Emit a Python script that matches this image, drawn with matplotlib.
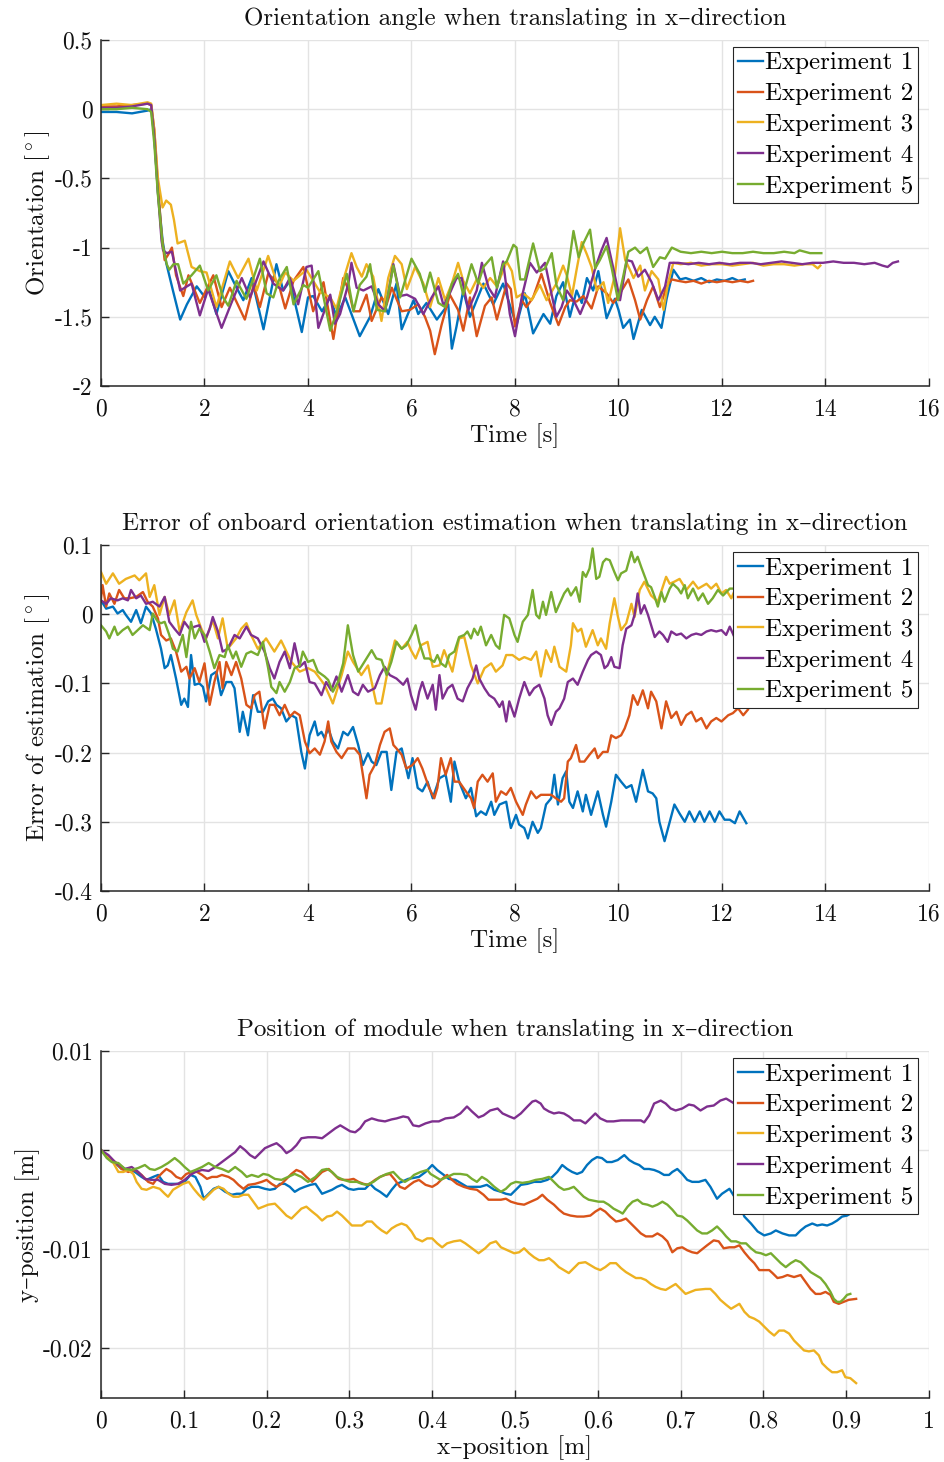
import matplotlib.pyplot as plt
import numpy as np

plt.rcParams['font.family'] = ['cmr10', 'DejaVu Serif']
plt.rcParams['mathtext.fontset'] = 'cm'
plt.rcParams['axes.unicode_minus'] = False
plt.rcParams['axes.formatter.use_mathtext'] = True

colors = ['#0072BD', '#D95319', '#EDB120', '#7E2F8E', '#77AC30']
labels = ['Experiment 1', 'Experiment 2', 'Experiment 3', 'Experiment 4', 'Experiment 5']

# ---------- panel 1: orientation angle (time [s], degrees) ----------
exp1_orient = [
    (0.0, -0.02), (0.3, -0.02), (0.6, -0.03), (0.75, -0.02), (0.9, -0.01), (0.97, 0.0), (1.03, -0.2),
    (1.1, -0.6), (1.19, -0.95), (1.26, -1.11), (1.39, -1.31), (1.53, -1.52), (1.66, -1.41), (1.85, -1.28),
    (2.01, -1.36), (2.07, -1.28), (2.23, -1.48), (2.46, -1.17), (2.62, -1.29), (2.75, -1.38), (2.91, -1.22),
    (3.14, -1.59), (3.39, -1.12), (3.52, -1.31), (3.65, -1.24), (3.88, -1.61), (4.0, -1.36), (4.1, -1.35),
    (4.27, -1.46), (4.43, -1.36), (4.55, -1.5), (4.72, -1.36), (5.0, -1.64), (5.2, -1.5), (5.36, -1.3),
    (5.55, -1.48), (5.71, -1.26), (5.81, -1.59), (6.04, -1.38), (6.13, -1.48), (6.29, -1.4), (6.49, -1.52),
    (6.71, -1.41), (6.78, -1.73), (6.87, -1.57), (7.0, -1.31), (7.13, -1.5), (7.39, -1.26), (7.58, -1.41),
    (7.77, -1.26), (7.93, -1.45), (8.03, -1.56), (8.19, -1.33), (8.35, -1.62), (8.55, -1.48), (8.68, -1.55),
    (8.8, -1.35), (8.93, -1.25), (9.06, -1.5), (9.19, -1.31), (9.29, -1.4), (9.39, -1.22), (9.51, -1.31),
    (9.61, -1.17), (9.77, -1.51), (9.93, -1.37), (10.0, -1.45), (10.09, -1.58), (10.22, -1.52), (10.29, -1.66),
    (10.45, -1.45), (10.61, -1.56), (10.7, -1.5), (10.83, -1.58), (10.93, -1.37), (11.06, -1.16), (11.19, -1.23),
    (11.3, -1.22), (11.45, -1.24), (11.6, -1.22), (11.75, -1.25), (11.9, -1.23), (12.05, -1.24), (12.2, -1.22),
    (12.32, -1.24), (12.44, -1.23)]
exp2_orient = [
    (0.0, 0.02), (0.3, 0.02), (0.6, 0.03), (0.9, 0.04), (0.97, 0.03), (1.03, -0.15), (1.1, -0.55), (1.17, -0.9),
    (1.23, -1.09), (1.3, -1.05), (1.37, -1.0), (1.45, -1.2), (1.59, -1.35), (1.69, -1.2), (1.91, -1.4),
    (2.17, -1.2), (2.33, -1.43), (2.49, -1.29), (2.78, -1.52), (2.95, -1.27), (3.07, -1.43), (3.23, -1.19),
    (3.43, -1.26), (3.56, -1.44), (3.72, -1.24), (3.91, -1.14), (4.1, -1.46), (4.3, -1.25), (4.49, -1.66),
    (4.68, -1.22), (4.78, -1.3), (4.88, -1.46), (5.0, -1.46), (5.13, -1.34), (5.23, -1.53), (5.42, -1.36),
    (5.52, -1.41), (5.62, -1.29), (5.81, -1.46), (5.97, -1.45), (6.13, -1.41), (6.26, -1.5), (6.36, -1.6),
    (6.45, -1.77), (6.58, -1.56), (6.74, -1.34), (6.9, -1.45), (7.0, -1.6), (7.13, -1.36), (7.26, -1.64),
    (7.42, -1.42), (7.55, -1.36), (7.65, -1.52), (7.84, -1.26), (7.92, -1.3), (8.0, -1.57), (8.13, -1.38),
    (8.22, -1.43), (8.35, -1.36), (8.51, -1.19), (8.68, -1.4), (8.84, -1.56), (8.97, -1.43), (9.06, -1.38),
    (9.19, -1.39), (9.32, -1.35), (9.48, -1.44), (9.61, -1.28), (9.77, -1.33), (9.9, -1.4), (10.03, -1.33),
    (10.19, -1.23), (10.32, -1.38), (10.42, -1.52), (10.55, -1.38), (10.67, -1.28), (10.8, -1.43), (10.93, -1.28),
    (11.03, -1.23), (11.15, -1.24), (11.3, -1.25), (11.45, -1.24), (11.6, -1.26), (11.75, -1.24), (11.9, -1.25),
    (12.05, -1.24), (12.2, -1.25), (12.35, -1.24), (12.5, -1.25), (12.6, -1.24)]
exp3_orient = [
    (0.0, 0.03), (0.3, 0.04), (0.6, 0.03), (0.9, 0.05), (0.97, 0.04), (1.03, -0.15), (1.1, -0.5), (1.19, -0.71),
    (1.26, -0.66), (1.35, -0.69), (1.41, -0.8), (1.48, -0.97), (1.62, -0.95), (1.75, -1.14), (1.91, -1.17),
    (2.04, -1.18), (2.23, -1.43), (2.49, -1.1), (2.65, -1.22), (2.85, -1.08), (3.01, -1.31), (3.23, -1.06),
    (3.43, -1.29), (3.56, -1.18), (3.72, -1.24), (3.97, -1.16), (4.23, -1.32), (4.43, -1.36), (4.55, -1.44),
    (4.71, -1.2), (4.84, -1.04), (4.94, -1.14), (5.04, -1.21), (5.13, -1.12), (5.26, -1.21), (5.42, -1.53),
    (5.55, -1.22), (5.68, -1.06), (5.81, -1.12), (5.91, -1.3), (6.07, -1.14), (6.23, -1.26), (6.36, -1.43),
    (6.52, -1.22), (6.65, -1.38), (6.78, -1.26), (6.9, -1.11), (7.0, -1.24), (7.13, -1.33), (7.26, -1.23),
    (7.39, -1.29), (7.52, -1.22), (7.65, -1.28), (7.84, -1.1), (7.94, -1.17), (8.03, -1.36), (8.16, -1.33),
    (8.32, -1.38), (8.48, -1.27), (8.61, -1.38), (8.8, -1.26), (8.93, -1.13), (9.0, -1.2), (9.1, -1.35),
    (9.19, -1.16), (9.29, -0.96), (9.39, -1.05), (9.48, -1.14), (9.58, -1.31), (9.71, -1.25), (9.8, -1.4),
    (9.93, -1.2), (10.03, -0.86), (10.13, -1.09), (10.22, -1.16), (10.29, -1.22), (10.42, -1.13), (10.51, -1.31),
    (10.64, -1.17), (10.77, -1.23), (10.87, -1.45), (10.96, -1.25), (11.06, -1.11), (11.2, -1.12), (11.4, -1.11),
    (11.6, -1.13), (11.8, -1.12), (12.0, -1.12), (12.2, -1.13), (12.4, -1.12), (12.6, -1.11), (12.8, -1.13),
    (13.0, -1.12), (13.2, -1.12), (13.4, -1.13), (13.6, -1.12), (13.75, -1.12), (13.85, -1.15), (13.9, -1.13)]
exp4_orient = [
    (0.0, 0.01), (0.3, 0.01), (0.6, 0.02), (0.9, 0.04), (0.97, 0.03), (1.03, -0.2), (1.1, -0.6), (1.17, -0.95),
    (1.2, -1.02), (1.27, -1.04), (1.37, -1.03), (1.53, -1.31), (1.75, -1.26), (1.91, -1.49), (2.07, -1.3),
    (2.33, -1.58), (2.52, -1.4), (2.72, -1.22), (2.88, -1.36), (3.14, -1.1), (3.33, -1.26), (3.52, -1.31),
    (3.65, -1.22), (3.81, -1.41), (3.97, -1.14), (4.07, -1.13), (4.2, -1.58), (4.43, -1.34), (4.52, -1.55),
    (4.62, -1.48), (4.78, -1.26), (4.84, -1.11), (4.94, -1.29), (5.07, -1.31), (5.23, -1.28), (5.36, -1.41),
    (5.49, -1.46), (5.65, -1.12), (5.78, -1.35), (5.91, -1.34), (6.07, -1.37), (6.23, -1.48), (6.39, -1.36),
    (6.52, -1.28), (6.62, -1.42), (6.74, -1.33), (6.87, -1.22), (6.97, -1.22), (7.1, -1.45), (7.26, -1.31),
    (7.36, -1.11), (7.49, -1.29), (7.61, -1.36), (7.77, -1.1), (7.9, -1.48), (8.0, -1.64), (8.13, -1.36),
    (8.29, -1.11), (8.42, -1.18), (8.58, -1.11), (8.68, -1.29), (8.8, -1.5), (8.9, -1.43), (9.0, -1.31),
    (9.13, -1.38), (9.26, -1.48), (9.39, -1.36), (9.55, -1.15), (9.67, -1.02), (9.77, -0.93), (9.9, -1.15),
    (10.03, -1.38), (10.16, -1.09), (10.26, -1.1), (10.38, -1.21), (10.51, -1.16), (10.64, -1.25), (10.77, -1.38),
    (10.9, -1.28), (10.99, -1.11), (11.15, -1.11), (11.35, -1.12), (11.55, -1.11), (11.75, -1.12), (11.95, -1.11),
    (12.15, -1.12), (12.35, -1.11), (12.55, -1.11), (12.75, -1.12), (12.95, -1.11), (13.15, -1.1), (13.35, -1.11),
    (13.55, -1.12), (13.75, -1.11), (13.95, -1.11), (14.15, -1.1), (14.35, -1.11), (14.55, -1.11), (14.75, -1.12),
    (14.95, -1.11), (15.1, -1.13), (15.2, -1.14), (15.3, -1.11), (15.4, -1.1)]
exp5_orient = [
    (0.0, 0.0), (0.3, 0.0), (0.6, 0.01), (0.9, 0.0), (0.97, -0.02), (1.03, -0.25), (1.1, -0.62), (1.19, -0.98),
    (1.27, -1.12), (1.32, -1.16), (1.4, -1.12), (1.49, -1.12), (1.59, -1.26), (1.75, -1.2), (1.91, -1.13),
    (2.07, -1.31), (2.23, -1.2), (2.36, -1.36), (2.46, -1.42), (2.62, -1.24), (2.81, -1.37), (3.07, -1.08),
    (3.2, -1.33), (3.33, -1.36), (3.43, -1.24), (3.59, -1.14), (3.72, -1.41), (3.91, -1.27), (4.0, -1.29),
    (4.2, -1.17), (4.43, -1.6), (4.55, -1.47), (4.75, -1.19), (4.88, -1.46), (5.0, -1.27), (5.13, -1.21),
    (5.2, -1.12), (5.33, -1.45), (5.49, -1.46), (5.65, -1.13), (5.78, -1.36), (6.0, -1.08), (6.16, -1.19),
    (6.26, -1.32), (6.36, -1.18), (6.52, -1.4), (6.65, -1.43), (6.78, -1.26), (6.9, -1.19), (7.0, -1.34),
    (7.16, -1.12), (7.29, -1.26), (7.39, -1.14), (7.55, -1.07), (7.65, -1.29), (7.77, -1.12), (7.84, -1.1),
    (7.97, -0.98), (8.03, -1.0), (8.1, -1.23), (8.19, -1.23), (8.35, -0.97), (8.48, -1.17), (8.58, -1.15),
    (8.71, -1.04), (8.8, -1.27), (8.93, -1.38), (9.03, -1.15), (9.13, -0.88), (9.23, -1.07), (9.32, -0.97),
    (9.45, -0.87), (9.55, -1.15), (9.64, -1.09), (9.77, -0.99), (9.87, -1.15), (9.99, -1.38), (10.09, -1.21),
    (10.19, -1.03), (10.32, -1.0), (10.42, -1.04), (10.55, -1.0), (10.67, -1.14), (10.8, -1.07), (10.9, -1.08),
    (11.03, -1.0), (11.2, -1.03), (11.4, -1.04), (11.6, -1.03), (11.8, -1.04), (12.0, -1.03), (12.2, -1.04),
    (12.4, -1.04), (12.6, -1.03), (12.8, -1.04), (13.0, -1.04), (13.2, -1.03), (13.4, -1.04), (13.5, -1.02),
    (13.7, -1.04), (13.92, -1.04)]

# ---------- panel 2: error of onboard estimation (time [s], degrees) ----------
exp1_error = [
    (0.0, 0.02), (0.1, 0.008), (0.23, 0.011), (0.32, 0.001), (0.42, 0.006), (0.48, -0.001), (0.58, -0.011),
    (0.68, 0.006), (0.77, -0.013), (0.87, 0.011), (0.97, 0.001), (1.06, -0.021), (1.16, -0.05), (1.23, -0.078),
    (1.29, -0.074), (1.35, -0.059), (1.45, -0.093), (1.55, -0.131), (1.61, -0.122), (1.68, -0.134), (1.74, -0.059),
    (1.81, -0.102), (1.9, -0.1), (1.97, -0.105), (2.03, -0.126), (2.13, -0.088), (2.23, -0.083), (2.32, -0.117),
    (2.42, -0.098), (2.52, -0.098), (2.58, -0.107), (2.68, -0.17), (2.74, -0.141), (2.84, -0.175), (2.94, -0.117),
    (3.03, -0.141), (3.13, -0.141), (3.23, -0.126), (3.32, -0.122), (3.39, -0.131), (3.48, -0.136), (3.58, -0.155),
    (3.68, -0.146), (3.77, -0.15), (3.87, -0.199), (3.94, -0.223), (4.03, -0.175), (4.13, -0.155), (4.19, -0.175),
    (4.26, -0.17), (4.32, -0.179), (4.39, -0.165), (4.48, -0.184), (4.58, -0.194), (4.68, -0.17), (4.77, -0.175),
    (4.87, -0.163), (4.97, -0.189), (5.06, -0.218), (5.16, -0.201), (5.23, -0.213), (5.32, -0.218), (5.42, -0.199),
    (5.52, -0.199), (5.61, -0.254), (5.71, -0.199), (5.81, -0.194), (5.94, -0.237), (6.02, -0.208), (6.12, -0.251),
    (6.21, -0.256), (6.31, -0.242), (6.41, -0.266), (6.54, -0.237), (6.66, -0.232), (6.76, -0.271), (6.83, -0.213),
    (6.92, -0.242), (7.05, -0.266), (7.15, -0.251), (7.25, -0.292), (7.34, -0.285), (7.44, -0.29), (7.54, -0.271),
    (7.6, -0.29), (7.7, -0.275), (7.83, -0.271), (7.92, -0.309), (8.02, -0.29), (8.08, -0.304), (8.18, -0.309),
    (8.25, -0.324), (8.34, -0.3), (8.44, -0.316), (8.5, -0.309), (8.6, -0.275), (8.7, -0.266), (8.76, -0.232),
    (8.83, -0.275), (8.92, -0.237), (8.99, -0.227), (9.05, -0.271), (9.12, -0.28), (9.21, -0.256), (9.31, -0.285),
    (9.37, -0.261), (9.47, -0.29), (9.6, -0.256), (9.7, -0.29), (9.76, -0.307), (9.86, -0.271), (9.95, -0.232),
    (10.05, -0.242), (10.15, -0.251), (10.25, -0.247), (10.34, -0.271), (10.47, -0.225), (10.57, -0.256),
    (10.66, -0.259), (10.73, -0.266), (10.79, -0.3), (10.89, -0.328), (10.99, -0.3), (11.08, -0.275), (11.18, -0.288),
    (11.28, -0.3), (11.37, -0.285), (11.47, -0.3), (11.57, -0.285), (11.66, -0.3), (11.76, -0.285), (11.86, -0.3),
    (11.95, -0.285), (12.05, -0.297), (12.15, -0.297), (12.25, -0.302), (12.34, -0.285), (12.47, -0.302)]
exp2_error = [
    (0.0, 0.023), (0.03, 0.042), (0.1, 0.011), (0.16, 0.03), (0.26, 0.015), (0.35, 0.035), (0.45, 0.023),
    (0.55, 0.023), (0.68, 0.025), (0.81, 0.032), (0.9, 0.018), (1.0, 0.011), (1.1, -0.006), (1.16, -0.03),
    (1.26, -0.038), (1.35, -0.035), (1.45, -0.054), (1.55, -0.083), (1.65, -0.076), (1.71, -0.093), (1.81, -0.078),
    (1.9, -0.098), (2.0, -0.071), (2.1, -0.131), (2.19, -0.098), (2.29, -0.069), (2.35, -0.107), (2.42, -0.069),
    (2.52, -0.088), (2.61, -0.069), (2.71, -0.093), (2.81, -0.131), (2.9, -0.136), (2.97, -0.117), (3.06, -0.112),
    (3.16, -0.165), (3.26, -0.131), (3.35, -0.131), (3.45, -0.146), (3.55, -0.131), (3.65, -0.148), (3.74, -0.141),
    (3.84, -0.146), (3.94, -0.184), (4.03, -0.201), (4.13, -0.194), (4.23, -0.203), (4.32, -0.184), (4.39, -0.155),
    (4.45, -0.184), (4.55, -0.199), (4.65, -0.208), (4.77, -0.194), (4.9, -0.194), (5.0, -0.203), (5.06, -0.232),
    (5.13, -0.266), (5.19, -0.232), (5.29, -0.218), (5.39, -0.189), (5.48, -0.17), (5.58, -0.165), (5.65, -0.189),
    (5.71, -0.194), (5.81, -0.203), (5.9, -0.223), (6.02, -0.218), (6.12, -0.208), (6.21, -0.223), (6.34, -0.251),
    (6.44, -0.266), (6.5, -0.251), (6.57, -0.208), (6.66, -0.232), (6.76, -0.208), (6.83, -0.242), (6.92, -0.242),
    (7.05, -0.256), (7.15, -0.266), (7.21, -0.28), (7.28, -0.242), (7.37, -0.232), (7.47, -0.242), (7.57, -0.23),
    (7.63, -0.271), (7.73, -0.256), (7.83, -0.261), (7.92, -0.251), (8.02, -0.271), (8.15, -0.29), (8.21, -0.275),
    (8.31, -0.256), (8.41, -0.266), (8.5, -0.261), (8.6, -0.261), (8.7, -0.261), (8.79, -0.266), (8.89, -0.271),
    (8.95, -0.266), (9.02, -0.213), (9.08, -0.208), (9.18, -0.189), (9.25, -0.213), (9.34, -0.213), (9.44, -0.203),
    (9.54, -0.194), (9.6, -0.208), (9.7, -0.199), (9.79, -0.199), (9.86, -0.175), (9.95, -0.179), (10.05, -0.175),
    (10.12, -0.165), (10.21, -0.146), (10.28, -0.117), (10.37, -0.131), (10.47, -0.11), (10.57, -0.136),
    (10.63, -0.112), (10.73, -0.126), (10.83, -0.165), (10.92, -0.126), (11.02, -0.15), (11.12, -0.141),
    (11.21, -0.16), (11.31, -0.146), (11.41, -0.141), (11.5, -0.155), (11.6, -0.15), (11.7, -0.165), (11.79, -0.155),
    (11.89, -0.15), (11.99, -0.155), (12.12, -0.146), (12.21, -0.143), (12.31, -0.136), (12.41, -0.146), (12.5, -0.138)]
exp3_error = [
    (0.0, 0.061), (0.1, 0.044), (0.23, 0.059), (0.35, 0.044), (0.48, 0.051), (0.65, 0.056), (0.74, 0.049),
    (0.87, 0.059), (0.94, 0.025), (1.03, 0.042), (1.13, -0.001), (1.23, 0.025), (1.32, -0.001), (1.42, 0.02),
    (1.52, -0.025), (1.65, 0.003), (1.77, 0.02), (1.84, -0.001), (1.94, -0.021), (2.03, -0.035), (2.16, -0.009),
    (2.26, -0.035), (2.35, -0.006), (2.45, -0.05), (2.61, -0.035), (2.71, -0.021), (2.81, -0.013), (2.9, -0.03),
    (3.03, -0.05), (3.19, -0.035), (3.35, -0.054), (3.48, -0.038), (3.68, -0.069), (3.84, -0.083), (4.0, -0.078),
    (4.13, -0.083), (4.32, -0.102), (4.48, -0.129), (4.65, -0.088), (4.77, -0.054), (4.87, -0.069), (5.03, -0.088),
    (5.16, -0.074), (5.32, -0.129), (5.42, -0.129), (5.55, -0.078), (5.68, -0.038), (5.81, -0.05), (5.92, -0.04),
    (5.99, -0.052), (6.08, -0.064), (6.18, -0.045), (6.31, -0.04), (6.41, -0.076), (6.54, -0.074), (6.63, -0.052),
    (6.79, -0.083), (6.92, -0.035), (7.02, -0.033), (7.15, -0.074), (7.28, -0.1), (7.41, -0.078), (7.54, -0.071),
    (7.63, -0.083), (7.76, -0.074), (7.83, -0.059), (7.95, -0.059), (8.08, -0.066), (8.18, -0.062), (8.31, -0.066),
    (8.41, -0.054), (8.5, -0.09), (8.6, -0.052), (8.7, -0.069), (8.76, -0.047), (8.86, -0.076), (8.99, -0.083),
    (9.08, -0.045), (9.12, -0.013), (9.21, -0.025), (9.28, -0.021), (9.37, -0.047), (9.5, -0.023), (9.6, -0.045),
    (9.66, -0.035), (9.76, -0.05), (9.83, -0.013), (9.92, 0.023), (9.99, -0.004), (10.05, -0.023), (10.15, -0.013),
    (10.25, 0.015), (10.31, -0.004), (10.41, 0.035), (10.5, 0.047), (10.63, 0.027), (10.76, 0.018), (10.92, 0.054),
    (10.99, 0.044), (11.08, 0.047), (11.18, 0.051), (11.31, 0.035), (11.44, 0.047), (11.54, 0.037), (11.7, 0.044),
    (11.79, 0.037), (11.89, 0.044), (11.99, 0.03), (12.08, 0.035), (12.18, 0.023), (12.25, 0.035), (12.45, 0.028)]
exp4_error = [
    (0.0, 0.02), (0.1, 0.015), (0.19, 0.023), (0.32, 0.02), (0.42, 0.023), (0.52, 0.02), (0.58, 0.035),
    (0.68, 0.023), (0.77, 0.027), (0.87, 0.015), (1.0, 0.018), (1.13, 0.011), (1.23, 0.025), (1.32, -0.011),
    (1.42, -0.021), (1.52, -0.03), (1.61, -0.011), (1.71, -0.021), (1.81, -0.018), (1.9, -0.016), (2.0, -0.04),
    (2.1, -0.021), (2.16, -0.004), (2.26, -0.025), (2.35, -0.054), (2.45, -0.05), (2.58, -0.03), (2.68, -0.035),
    (2.81, -0.018), (2.9, -0.03), (3.03, -0.035), (3.16, -0.054), (3.26, -0.078), (3.35, -0.093), (3.45, -0.069),
    (3.55, -0.054), (3.65, -0.078), (3.74, -0.042), (3.84, -0.076), (3.94, -0.069), (4.03, -0.098), (4.13, -0.1),
    (4.26, -0.117), (4.35, -0.098), (4.45, -0.11), (4.55, -0.09), (4.65, -0.112), (4.77, -0.088), (4.87, -0.112),
    (4.97, -0.117), (5.06, -0.102), (5.16, -0.112), (5.29, -0.107), (5.39, -0.088), (5.48, -0.076), (5.58, -0.088),
    (5.71, -0.093), (5.84, -0.102), (5.92, -0.093), (5.99, -0.117), (6.08, -0.138), (6.15, -0.112), (6.21, -0.098),
    (6.31, -0.122), (6.41, -0.102), (6.47, -0.138), (6.54, -0.088), (6.6, -0.122), (6.7, -0.107), (6.79, -0.102),
    (6.89, -0.122), (6.99, -0.126), (7.08, -0.107), (7.18, -0.093), (7.25, -0.074), (7.31, -0.093), (7.41, -0.107),
    (7.5, -0.117), (7.6, -0.122), (7.7, -0.134), (7.76, -0.126), (7.83, -0.155), (7.89, -0.126), (7.99, -0.148),
    (8.08, -0.122), (8.18, -0.098), (8.28, -0.117), (8.37, -0.107), (8.47, -0.102), (8.57, -0.122), (8.63, -0.146),
    (8.7, -0.16), (8.79, -0.141), (8.86, -0.136), (8.95, -0.122), (9.02, -0.098), (9.12, -0.093), (9.21, -0.102),
    (9.31, -0.083), (9.41, -0.066), (9.47, -0.059), (9.57, -0.054), (9.66, -0.059), (9.73, -0.078), (9.79, -0.074),
    (9.86, -0.062), (9.92, -0.076), (10.02, -0.078), (10.08, -0.045), (10.15, -0.021), (10.25, -0.016),
    (10.31, -0.001), (10.37, 0.03), (10.43, 0.001), (10.5, 0.013), (10.57, -0.001), (10.63, -0.016), (10.7, -0.033),
    (10.79, -0.025), (10.86, -0.03), (10.95, -0.04), (11.02, -0.025), (11.12, -0.03), (11.21, -0.028),
    (11.31, -0.035), (11.41, -0.03), (11.5, -0.028), (11.6, -0.03), (11.7, -0.025), (11.79, -0.023), (11.89, -0.025),
    (11.99, -0.023), (12.08, -0.03), (12.15, -0.018), (12.21, -0.028), (12.28, -0.04), (12.4, -0.03), (12.5, -0.035)]
exp5_error = [
    (0.0, -0.016), (0.1, -0.025), (0.16, -0.035), (0.26, -0.018), (0.32, -0.03), (0.42, -0.023), (0.52, -0.018),
    (0.61, -0.03), (0.71, -0.023), (0.81, -0.016), (0.94, -0.023), (1.0, 0.001), (1.1, -0.011), (1.16, -0.013),
    (1.23, -0.011), (1.32, -0.03), (1.39, -0.05), (1.48, -0.054), (1.58, -0.03), (1.65, -0.062), (1.74, -0.011),
    (1.81, -0.035), (1.9, -0.021), (2.0, -0.03), (2.1, -0.054), (2.19, -0.078), (2.29, -0.059), (2.39, -0.062),
    (2.45, -0.045), (2.55, -0.064), (2.61, -0.054), (2.71, -0.076), (2.81, -0.057), (2.9, -0.054), (3.03, -0.059),
    (3.13, -0.04), (3.23, -0.078), (3.29, -0.105), (3.39, -0.114), (3.45, -0.098), (3.55, -0.112), (3.65, -0.098),
    (3.74, -0.078), (3.84, -0.074), (3.9, -0.054), (4.0, -0.069), (4.1, -0.066), (4.19, -0.083), (4.32, -0.09),
    (4.39, -0.095), (4.48, -0.112), (4.58, -0.098), (4.68, -0.071), (4.77, -0.016), (4.87, -0.059), (4.97, -0.083),
    (5.03, -0.076), (5.13, -0.064), (5.23, -0.052), (5.32, -0.064), (5.42, -0.066), (5.52, -0.088), (5.61, -0.069),
    (5.71, -0.04), (5.81, -0.05), (5.9, -0.045), (6.0, -0.03), (6.08, -0.016), (6.15, -0.04), (6.25, -0.064),
    (6.34, -0.064), (6.44, -0.069), (6.5, -0.059), (6.57, -0.071), (6.66, -0.076), (6.73, -0.059), (6.83, -0.054),
    (6.92, -0.033), (7.02, -0.03), (7.08, -0.025), (7.15, -0.035), (7.21, -0.021), (7.28, -0.03), (7.34, -0.018),
    (7.44, -0.045), (7.54, -0.03), (7.63, -0.045), (7.7, -0.05), (7.79, -0.001), (7.89, -0.006), (7.99, -0.03),
    (8.05, -0.04), (8.15, -0.011), (8.25, -0.001), (8.34, 0.035), (8.41, -0.001), (8.47, -0.006), (8.54, 0.018),
    (8.6, -0.001), (8.7, 0.032), (8.79, 0.003), (8.86, 0.015), (8.95, 0.03), (9.02, 0.037), (9.08, 0.027),
    (9.18, 0.039), (9.25, 0.018), (9.31, 0.061), (9.37, 0.054), (9.44, 0.066), (9.5, 0.095), (9.57, 0.051),
    (9.63, 0.054), (9.7, 0.075), (9.76, 0.08), (9.83, 0.078), (9.92, 0.061), (9.99, 0.049), (10.05, 0.059),
    (10.15, 0.063), (10.25, 0.09), (10.31, 0.075), (10.37, 0.083), (10.44, 0.068), (10.5, 0.056), (10.57, 0.042),
    (10.63, 0.039), (10.7, 0.025), (10.76, 0.011), (10.83, 0.032), (10.89, 0.018), (10.99, 0.037), (11.05, 0.044),
    (11.15, 0.037), (11.21, 0.03), (11.28, 0.042), (11.34, 0.023), (11.44, 0.037), (11.54, 0.02), (11.63, 0.03),
    (11.73, 0.015), (11.82, 0.023), (11.92, 0.035), (12.02, 0.027), (12.15, 0.037), (12.25, 0.037), (12.35, 0.03),
    (12.45, 0.035)]

# ---------- panel 3: position of module (x [m], y [m]) ----------
exp1_pos = [
    (0.0, 0.0), (0.009, -0.0008), (0.017, -0.0013), (0.025, -0.0019), (0.033, -0.0019), (0.041, -0.0022),
    (0.049, -0.0027), (0.055, -0.003), (0.063, -0.0027), (0.069, -0.0025), (0.075, -0.0032), (0.081, -0.0034),
    (0.089, -0.0034), (0.095, -0.0034), (0.101, -0.0032), (0.108, -0.0025), (0.114, -0.0027), (0.12, -0.0037),
    (0.124, -0.0049), (0.13, -0.0044), (0.136, -0.0039), (0.142, -0.0037), (0.15, -0.0042), (0.158, -0.0045),
    (0.164, -0.0044), (0.17, -0.0044), (0.176, -0.0039), (0.182, -0.0037), (0.19, -0.0037), (0.198, -0.0039),
    (0.204, -0.004), (0.21, -0.0039), (0.216, -0.0034), (0.222, -0.0034), (0.228, -0.0037), (0.234, -0.0042),
    (0.24, -0.0039), (0.246, -0.0037), (0.253, -0.0035), (0.259, -0.0034), (0.267, -0.0044), (0.273, -0.0042),
    (0.279, -0.004), (0.285, -0.0037), (0.291, -0.0035), (0.299, -0.0039), (0.305, -0.004), (0.311, -0.0039),
    (0.319, -0.0039), (0.325, -0.0034), (0.331, -0.0039), (0.337, -0.0042), (0.345, -0.0047), (0.351, -0.004),
    (0.357, -0.0034), (0.363, -0.0032), (0.371, -0.0029), (0.384, -0.0027), (0.392, -0.0022), (0.4, -0.0015),
    (0.406, -0.002), (0.414, -0.0025), (0.42, -0.0029), (0.428, -0.003), (0.436, -0.0034), (0.442, -0.0037),
    (0.45, -0.0037), (0.458, -0.0037), (0.466, -0.0035), (0.475, -0.004), (0.483, -0.0042), (0.489, -0.0044),
    (0.495, -0.0045), (0.501, -0.004), (0.507, -0.0035), (0.515, -0.0034), (0.523, -0.0032), (0.531, -0.0032),
    (0.539, -0.003), (0.545, -0.0027), (0.551, -0.0022), (0.557, -0.0015), (0.563, -0.0019), (0.569, -0.0022),
    (0.575, -0.0024), (0.581, -0.0022), (0.587, -0.0015), (0.593, -0.001), (0.599, -0.0007), (0.605, -0.0008),
    (0.611, -0.0012), (0.617, -0.0012), (0.624, -0.001), (0.632, -0.0005), (0.638, -0.001), (0.644, -0.0013),
    (0.65, -0.0015), (0.656, -0.0019), (0.662, -0.0019), (0.668, -0.002), (0.674, -0.0022), (0.68, -0.0025),
    (0.686, -0.0025), (0.69, -0.0022), (0.696, -0.0019), (0.702, -0.0024), (0.708, -0.003), (0.714, -0.0032),
    (0.722, -0.0032), (0.73, -0.003), (0.736, -0.0037), (0.744, -0.0049), (0.75, -0.0044), (0.759, -0.0039),
    (0.765, -0.0047), (0.771, -0.0054), (0.777, -0.0067), (0.785, -0.0074), (0.793, -0.0082), (0.801, -0.0086),
    (0.809, -0.0084), (0.815, -0.0081), (0.823, -0.0084), (0.831, -0.0086), (0.839, -0.0086), (0.845, -0.0081),
    (0.851, -0.0077), (0.859, -0.0074), (0.865, -0.0076), (0.871, -0.0075), (0.877, -0.0076), (0.883, -0.0074),
    (0.889, -0.0071), (0.895, -0.0067), (0.901, -0.0066), (0.907, -0.0063), (0.912, -0.0061)]
exp2_pos = [
    (0.0, 0.0), (0.009, -0.0007), (0.017, -0.0012), (0.025, -0.0019), (0.033, -0.0022), (0.041, -0.002),
    (0.049, -0.0025), (0.057, -0.0032), (0.063, -0.0034), (0.069, -0.0027), (0.075, -0.0022), (0.079, -0.0019),
    (0.085, -0.0022), (0.091, -0.0027), (0.097, -0.0029), (0.103, -0.0024), (0.11, -0.0022), (0.116, -0.0022),
    (0.122, -0.0025), (0.128, -0.0029), (0.134, -0.0027), (0.14, -0.0027), (0.146, -0.0025), (0.154, -0.0027),
    (0.16, -0.003), (0.166, -0.0035), (0.172, -0.0039), (0.178, -0.0035), (0.186, -0.0034), (0.194, -0.0032),
    (0.2, -0.003), (0.206, -0.0034), (0.212, -0.0037), (0.218, -0.0034), (0.224, -0.0029), (0.23, -0.0024),
    (0.236, -0.002), (0.242, -0.0022), (0.248, -0.0027), (0.255, -0.0032), (0.261, -0.0027), (0.267, -0.0022),
    (0.275, -0.0019), (0.281, -0.0024), (0.287, -0.0029), (0.293, -0.003), (0.299, -0.003), (0.305, -0.0029),
    (0.311, -0.0032), (0.317, -0.0034), (0.323, -0.0035), (0.331, -0.003), (0.337, -0.0027), (0.343, -0.0025),
    (0.349, -0.0024), (0.355, -0.003), (0.361, -0.0037), (0.367, -0.0039), (0.373, -0.0035), (0.378, -0.0032),
    (0.384, -0.003), (0.392, -0.0035), (0.4, -0.0037), (0.406, -0.0034), (0.412, -0.0029), (0.418, -0.0025),
    (0.424, -0.003), (0.43, -0.0034), (0.438, -0.0037), (0.446, -0.0039), (0.454, -0.004), (0.462, -0.0045),
    (0.468, -0.005), (0.477, -0.005), (0.483, -0.005), (0.489, -0.0049), (0.495, -0.0052), (0.503, -0.0054),
    (0.511, -0.0055), (0.519, -0.0052), (0.527, -0.0049), (0.533, -0.0045), (0.539, -0.005), (0.547, -0.0055),
    (0.553, -0.006), (0.559, -0.0064), (0.567, -0.0066), (0.575, -0.0067), (0.583, -0.0067), (0.591, -0.0066),
    (0.597, -0.0062), (0.603, -0.0059), (0.609, -0.0062), (0.615, -0.0067), (0.622, -0.0072), (0.628, -0.0071),
    (0.634, -0.0069), (0.64, -0.0074), (0.646, -0.0079), (0.652, -0.0084), (0.658, -0.0087), (0.666, -0.0087),
    (0.672, -0.0084), (0.678, -0.0087), (0.684, -0.0092), (0.69, -0.0103), (0.696, -0.0099), (0.702, -0.0098),
    (0.708, -0.0101), (0.714, -0.0103), (0.72, -0.0104), (0.732, -0.0096), (0.74, -0.0091), (0.746, -0.0092),
    (0.752, -0.0099), (0.759, -0.0098), (0.765, -0.0098), (0.771, -0.0096), (0.777, -0.0103), (0.783, -0.0109),
    (0.789, -0.0114), (0.795, -0.0121), (0.801, -0.0121), (0.807, -0.0121), (0.811, -0.0124), (0.817, -0.0129),
    (0.823, -0.0128), (0.829, -0.0126), (0.837, -0.0128), (0.845, -0.0126), (0.851, -0.0133), (0.857, -0.014),
    (0.863, -0.0145), (0.869, -0.0145), (0.875, -0.0143), (0.881, -0.0146), (0.885, -0.0153), (0.891, -0.0155),
    (0.897, -0.0153), (0.903, -0.0151), (0.912, -0.015)]
exp3_pos = [
    (0.0, 0.0), (0.009, -0.0008), (0.015, -0.0013), (0.021, -0.0022), (0.027, -0.0022), (0.033, -0.002),
    (0.039, -0.0024), (0.043, -0.0032), (0.049, -0.0039), (0.055, -0.004), (0.063, -0.0037), (0.071, -0.0039),
    (0.077, -0.0044), (0.081, -0.0047), (0.087, -0.004), (0.093, -0.0037), (0.099, -0.0034), (0.106, -0.0032),
    (0.112, -0.0039), (0.118, -0.0045), (0.124, -0.005), (0.13, -0.0045), (0.136, -0.004), (0.142, -0.0037),
    (0.148, -0.0039), (0.154, -0.0044), (0.16, -0.0047), (0.166, -0.0047), (0.172, -0.0045), (0.178, -0.0045),
    (0.184, -0.0052), (0.19, -0.0059), (0.196, -0.0057), (0.202, -0.0055), (0.21, -0.0054), (0.216, -0.0059),
    (0.224, -0.0066), (0.23, -0.0069), (0.236, -0.0064), (0.242, -0.0059), (0.248, -0.0057), (0.255, -0.0062),
    (0.261, -0.0066), (0.267, -0.0071), (0.273, -0.0067), (0.279, -0.0066), (0.285, -0.0062), (0.291, -0.0066),
    (0.297, -0.0071), (0.303, -0.0076), (0.309, -0.0076), (0.315, -0.0076), (0.321, -0.0072), (0.327, -0.0072),
    (0.333, -0.0077), (0.339, -0.0081), (0.345, -0.0084), (0.351, -0.0079), (0.357, -0.0076), (0.363, -0.0074),
    (0.369, -0.0076), (0.375, -0.0082), (0.38, -0.0089), (0.388, -0.0092), (0.394, -0.0089), (0.4, -0.0089),
    (0.406, -0.0094), (0.412, -0.0098), (0.418, -0.0094), (0.426, -0.0092), (0.434, -0.0091), (0.44, -0.0094),
    (0.448, -0.0099), (0.456, -0.0104), (0.464, -0.0099), (0.47, -0.0094), (0.477, -0.0092), (0.483, -0.0098),
    (0.491, -0.0101), (0.499, -0.0104), (0.505, -0.0103), (0.511, -0.0099), (0.517, -0.0104), (0.523, -0.0108),
    (0.529, -0.0111), (0.535, -0.0111), (0.541, -0.0109), (0.547, -0.0113), (0.553, -0.0118), (0.559, -0.0121),
    (0.565, -0.0124), (0.571, -0.0119), (0.577, -0.0114), (0.585, -0.0113), (0.591, -0.0116), (0.597, -0.0119),
    (0.603, -0.0121), (0.609, -0.0118), (0.615, -0.0114), (0.622, -0.0114), (0.628, -0.0119), (0.634, -0.0123),
    (0.64, -0.0126), (0.646, -0.0129), (0.652, -0.0129), (0.658, -0.0131), (0.664, -0.0135), (0.67, -0.0138),
    (0.676, -0.014), (0.682, -0.0141), (0.688, -0.0138), (0.694, -0.0135), (0.7, -0.014), (0.706, -0.0145),
    (0.712, -0.0143), (0.718, -0.0141), (0.73, -0.014), (0.736, -0.014), (0.742, -0.0145), (0.748, -0.0151),
    (0.755, -0.0156), (0.761, -0.016), (0.765, -0.0158), (0.771, -0.0155), (0.777, -0.0163), (0.783, -0.0168),
    (0.789, -0.017), (0.795, -0.0173), (0.801, -0.0178), (0.807, -0.0183), (0.813, -0.0187), (0.819, -0.0182),
    (0.825, -0.0182), (0.831, -0.0185), (0.837, -0.0192), (0.843, -0.0197), (0.849, -0.0202), (0.855, -0.0203),
    (0.861, -0.0202), (0.867, -0.0207), (0.871, -0.0215), (0.877, -0.022), (0.883, -0.0224), (0.889, -0.0224),
    (0.895, -0.0222), (0.899, -0.0229), (0.905, -0.023), (0.912, -0.0235)]
exp4_pos = [
    (0.0, 0.0), (0.009, -0.0005), (0.017, -0.0012), (0.029, -0.0019), (0.037, -0.0017), (0.045, -0.0022),
    (0.053, -0.0029), (0.061, -0.003), (0.069, -0.003), (0.077, -0.0034), (0.085, -0.0035), (0.093, -0.0034),
    (0.101, -0.003), (0.108, -0.0025), (0.114, -0.0022), (0.122, -0.002), (0.13, -0.0021), (0.138, -0.0017),
    (0.146, -0.0012), (0.154, -0.0007), (0.162, -0.0002), (0.168, 0.0004), (0.174, 0.0), (0.18, -0.0005),
    (0.186, -0.0008), (0.192, -0.0003), (0.198, 0.0002), (0.206, 0.0005), (0.212, 0.0007), (0.218, 0.0003),
    (0.224, -0.0003), (0.23, 0.0), (0.236, 0.0005), (0.242, 0.0012), (0.25, 0.0013), (0.259, 0.0013),
    (0.267, 0.0012), (0.275, 0.0017), (0.283, 0.0022), (0.289, 0.0025), (0.295, 0.0022), (0.301, 0.0019),
    (0.307, 0.0018), (0.313, 0.0022), (0.319, 0.0029), (0.327, 0.0032), (0.335, 0.003), (0.343, 0.0029),
    (0.351, 0.0031), (0.357, 0.0032), (0.365, 0.0034), (0.371, 0.0033), (0.377, 0.0025), (0.384, 0.0024),
    (0.392, 0.0027), (0.4, 0.0029), (0.408, 0.0029), (0.416, 0.0032), (0.426, 0.0033), (0.434, 0.0037),
    (0.442, 0.0044), (0.448, 0.0039), (0.456, 0.0033), (0.462, 0.0035), (0.47, 0.004), (0.479, 0.0042),
    (0.485, 0.0037), (0.493, 0.0034), (0.499, 0.0032), (0.507, 0.0037), (0.515, 0.0044), (0.521, 0.0049),
    (0.525, 0.005), (0.531, 0.0047), (0.535, 0.0042), (0.541, 0.0039), (0.547, 0.0037), (0.553, 0.0038),
    (0.559, 0.0037), (0.565, 0.0034), (0.571, 0.003), (0.579, 0.003), (0.585, 0.0027), (0.591, 0.0032),
    (0.597, 0.0037), (0.603, 0.0032), (0.611, 0.0029), (0.619, 0.0029), (0.628, 0.003), (0.636, 0.003),
    (0.644, 0.003), (0.652, 0.003), (0.656, 0.0028), (0.662, 0.0035), (0.668, 0.0047), (0.676, 0.005),
    (0.682, 0.0047), (0.688, 0.0042), (0.694, 0.004), (0.702, 0.0042), (0.71, 0.0046), (0.716, 0.0045),
    (0.724, 0.004), (0.732, 0.0044), (0.74, 0.0045), (0.748, 0.005), (0.755, 0.0052), (0.761, 0.0049),
    (0.765, 0.0047), (0.78, 0.0045), (0.8, 0.0049), (0.82, 0.0046), (0.85, 0.0051), (0.88, 0.0048), (0.91, 0.005)]
exp5_pos = [
    (0.0, 0.0), (0.007, -0.0008), (0.013, -0.0012), (0.021, -0.0013), (0.029, -0.0019), (0.037, -0.002),
    (0.045, -0.0018), (0.053, -0.0015), (0.059, -0.0019), (0.065, -0.002), (0.073, -0.0017), (0.081, -0.0013),
    (0.089, -0.0008), (0.095, -0.0012), (0.101, -0.0017), (0.108, -0.0022), (0.114, -0.002), (0.122, -0.0017),
    (0.13, -0.0013), (0.138, -0.0017), (0.146, -0.0019), (0.154, -0.0022), (0.162, -0.0017), (0.17, -0.0022),
    (0.176, -0.0027), (0.182, -0.0025), (0.19, -0.0027), (0.196, -0.0024), (0.202, -0.0025), (0.21, -0.0029),
    (0.218, -0.003), (0.226, -0.0027), (0.234, -0.0024), (0.242, -0.0027), (0.25, -0.0032), (0.259, -0.0027),
    (0.267, -0.002), (0.273, -0.0019), (0.279, -0.0022), (0.285, -0.0027), (0.293, -0.003), (0.301, -0.0032),
    (0.309, -0.0032), (0.315, -0.0034), (0.321, -0.0035), (0.329, -0.0032), (0.337, -0.0027), (0.345, -0.0024),
    (0.353, -0.0022), (0.361, -0.0029), (0.367, -0.0032), (0.373, -0.0029), (0.378, -0.0025), (0.386, -0.0022),
    (0.394, -0.002), (0.398, -0.0024), (0.404, -0.0027), (0.41, -0.003), (0.418, -0.0027), (0.426, -0.0024),
    (0.434, -0.0024), (0.442, -0.0025), (0.448, -0.0029), (0.454, -0.0032), (0.46, -0.0027), (0.466, -0.003),
    (0.475, -0.0037), (0.483, -0.0042), (0.489, -0.0039), (0.495, -0.0034), (0.501, -0.0032), (0.509, -0.0033),
    (0.517, -0.0032), (0.525, -0.003), (0.533, -0.0029), (0.541, -0.0027), (0.547, -0.0032), (0.553, -0.0037),
    (0.559, -0.004), (0.565, -0.0039), (0.571, -0.0037), (0.577, -0.0042), (0.583, -0.0047), (0.589, -0.005),
    (0.595, -0.0051), (0.601, -0.0052), (0.607, -0.0052), (0.613, -0.0055), (0.619, -0.0059), (0.626, -0.0062),
    (0.63, -0.0064), (0.636, -0.0057), (0.642, -0.0052), (0.648, -0.005), (0.654, -0.0054), (0.66, -0.0055),
    (0.666, -0.0057), (0.672, -0.0055), (0.678, -0.0052), (0.684, -0.0055), (0.69, -0.006), (0.696, -0.0066),
    (0.702, -0.0067), (0.708, -0.0071), (0.714, -0.0076), (0.72, -0.0081), (0.726, -0.0084), (0.732, -0.0084),
    (0.738, -0.0081), (0.744, -0.0077), (0.75, -0.0082), (0.755, -0.0087), (0.761, -0.0092), (0.767, -0.0092),
    (0.773, -0.0094), (0.779, -0.0094), (0.785, -0.0099), (0.791, -0.0103), (0.797, -0.0104), (0.803, -0.0106),
    (0.809, -0.0104), (0.815, -0.0109), (0.821, -0.0114), (0.827, -0.0118), (0.833, -0.0114), (0.839, -0.0111),
    (0.845, -0.0113), (0.851, -0.0118), (0.857, -0.0123), (0.863, -0.0126), (0.869, -0.0129), (0.875, -0.0135),
    (0.881, -0.0143), (0.885, -0.015), (0.889, -0.0153), (0.893, -0.0153), (0.897, -0.015), (0.901, -0.0146),
    (0.905, -0.0145)]

orient = [exp1_orient, exp2_orient, exp3_orient, exp4_orient, exp5_orient]
error = [exp1_error, exp2_error, exp3_error, exp4_error, exp5_error]
position = [exp1_pos, exp2_pos, exp3_pos, exp4_pos, exp5_pos]

time_ticks = [0, 2, 4, 6, 8, 10, 12, 14, 16]
orient_ticks = [0.5, 0, -0.5, -1, -1.5, -2]
orient_ticklabels = ['0.5', '0', '-0.5', '-1', '-1.5', '-2']
error_ticks = [0.1, 0, -0.1, -0.2, -0.3, -0.4]
error_ticklabels = ['0.1', '0', '-0.1', '-0.2', '-0.3', '-0.4']
xpos_ticks = [0, 0.1, 0.2, 0.3, 0.4, 0.5, 0.6, 0.7, 0.8, 0.9, 1]
xpos_ticklabels = ['0', '0.1', '0.2', '0.3', '0.4', '0.5', '0.6', '0.7', '0.8', '0.9', '1']
ypos_ticks = [0.01, 0, -0.01, -0.02]
ypos_ticklabels = ['0.01', '0', '-0.01', '-0.02']

FS = 18      # titles, labels, legend
TFS = 17     # tick labels
W, H = 945, 1462


def make_axes(top, bottom):
    return fig.add_axes([101 / W, 1 - bottom / H, 828 / W, (bottom - top) / H])


def style(ax, xlim, ylim, xt, xtl, yt, ytl, title, xlabel, ylabel):
    ax.set_xlim(xlim)
    ax.set_ylim(ylim)
    ax.set_xticks(xt)
    ax.set_xticklabels(xtl)
    ax.set_yticks(yt)
    ax.set_yticklabels(ytl)
    ax.grid(True, color='#e3e3e3', linewidth=1.0)
    ax.set_axisbelow(True)
    for s in ['top', 'right']:
        ax.spines[s].set_visible(False)
    for s in ['left', 'bottom']:
        ax.spines[s].set_color('#262626')
        ax.spines[s].set_linewidth(1.1)
    ax.tick_params(direction='in', length=5.5, width=1.0, color='#262626',
                   labelsize=TFS, labelcolor='#111111')
    ax.tick_params(axis='x', pad=9)
    ax.tick_params(axis='y', pad=6)
    ax.set_title(title, fontsize=FS, pad=11, color='#111111')
    ax.set_xlabel(xlabel, fontsize=FS, labelpad=2, color='#111111')
    ax.set_ylabel(ylabel, fontsize=FS, labelpad=2, color='#111111')
    leg = ax.legend(labels, loc='upper right', bbox_to_anchor=(1 - 11 / 828, 1 - 7 / 346),
                    borderaxespad=0, fontsize=FS, fancybox=False, framealpha=1,
                    edgecolor='#262626', handlelength=1.0, handletextpad=0.08,
                    labelspacing=0.33, borderpad=0.2)
    leg.get_frame().set_linewidth(0.8)


fig = plt.figure(figsize=(9.45, 14.62), dpi=100)

ax1 = make_axes(40, 386)
for data, c in zip(orient, colors):
    arr = np.array(data)
    ax1.plot(arr[:, 0], arr[:, 1], color=c, linewidth=1.7)
style(ax1, (0, 16), (-2, 0.5), time_ticks, [str(t) for t in time_ticks], orient_ticks, orient_ticklabels,
      'Orientation angle when translating in x\u2013direction', 'Time [s]', r'Orientation [$^\circ$]')

ax2 = make_axes(545, 891)
for data, c in zip(error, colors):
    arr = np.array(data)
    ax2.plot(arr[:, 0], arr[:, 1], color=c, linewidth=1.7)
style(ax2, (0, 16), (-0.4, 0.1), time_ticks, [str(t) for t in time_ticks], error_ticks, error_ticklabels,
      'Error of onboard orientation estimation when translating in x\u2013direction', 'Time [s]',
      r'Error of estimation [$^\circ$]')

ax3 = make_axes(1051, 1398)
for data, c in zip(position, colors):
    arr = np.array(data)
    ax3.plot(arr[:, 0], arr[:, 1], color=c, linewidth=1.7)
style(ax3, (0, 1), (-0.025, 0.01), xpos_ticks, xpos_ticklabels, ypos_ticks, ypos_ticklabels,
      'Position of module when translating in x\u2013direction', 'x\u2013position [m]', 'y\u2013position [m]')

fig.savefig('out.png', dpi=100)
